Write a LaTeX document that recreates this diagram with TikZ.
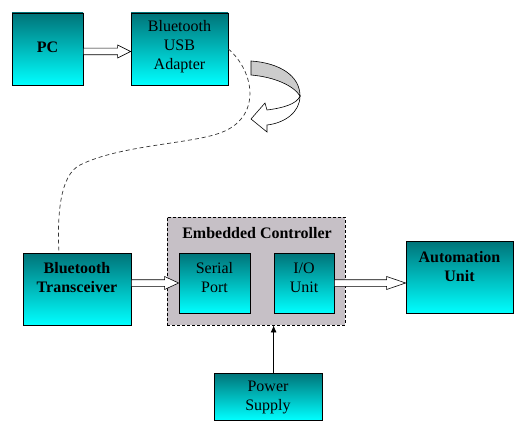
\documentclass[tikz,border=0pt]{standalone}
\usepackage{fontspec}
\setmainfont{Liberation Serif}
\usetikzlibrary{calc,arrows.meta}
\definecolor{boxtop}{RGB}{0,115,120}
\definecolor{boxmid}{RGB}{0,190,195}
\definecolor{boxbot}{RGB}{0,255,255}
\definecolor{ecgray}{RGB}{198,192,198}
\tikzset{
  blk/.style={draw, line width=.8pt, top color=boxtop, middle color=boxmid, bottom color=boxbot},
  lbl/.style={align=center, inner sep=0pt, font=\fontsize{16}{19}\selectfont},
  lblb/.style={lbl, font=\fontsize{16}{19}\selectfont\bfseries},
}
% hollow block arrow, [head length]{from}{to}
\newcommand{\fatarrow}[3][14pt]{%
  \draw[fill=white, line width=.6pt] let \p1=(#2), \p2=(#3) in
    (\x1,\y1+3.3pt) -- (\x2-#1,\y1+3.3pt) -- (\x2-#1,\y1+6.5pt) -- (\x2,\y1)
    -- (\x2-#1,\y1-6.5pt) -- (\x2-#1,\y1-3.3pt) -- (\x1,\y1-3.3pt) -- cycle;}
\begin{document}
\begin{tikzpicture}[x=1pt, y=-1pt, >={Latex[length=7pt,width=6pt]}]
\useasboundingbox (0,0) rectangle (525,433);
% top row
\node[blk, minimum width=71pt, minimum height=72pt] (pc) at (47.5,49) {};
\node[lblb] (pctxt) at ([yshift=2pt]pc.center) {PC};
\node[blk, minimum width=97pt, minimum height=72pt] (usb) at (179.5,49) {};
\node[lbl] (usbtxt) at ([yshift=2pt]usb.center) {Bluetooth\\USB\\Adapter};
\fatarrow[13pt]{[yshift=-2.5pt]pc.east}{usb.west}
% wireless link
\draw[fill=gray!40, line width=.6pt] (251,61) .. controls (280,63) and (300,76) .. (300,96)
   .. controls (294,86) and (275,77) .. (251,75) -- cycle;
\draw[fill=white, line width=.6pt] (300,96) .. controls (300,112) and (285,123) .. (267,125)
   -- (267,132) -- (251,119) -- (265,103) -- (267,110)
   .. controls (283,108) and (297,104) .. (300,96) -- cycle;
% bottom row
\node[blk, minimum width=108pt, minimum height=72pt] (bt) at (77,289) {};
\node[lblb] (bttxt) at ([yshift=11pt]bt.center) {Bluetooth\\Transceiver};
\draw[dash pattern=on 4pt off 3pt, line width=.7pt, black!80] (usb.east)
   .. controls (255,72) and (262,118) .. (220,133)
   .. controls (190,144) and (120,145) .. (80,165)
   .. controls (60,175) and (57,215) .. ([xshift=-18pt]bt.north);
\node[draw, dash pattern=on 3pt off 2pt, line width=.8pt, fill=ecgray,
      minimum width=178pt, minimum height=108pt] (ec) at (256,271) {};
\node[lblb] (ectxt) at (257,233) {Embedded Controller};
\node[blk, minimum width=71pt, minimum height=60pt] (sp) at (214.5,283) {};
\node[lbl] (sptxt) at ([yshift=5pt]sp.center) {Serial\\Port};
\node[blk, minimum width=60pt, minimum height=60pt] (io) at (304,283) {};
\node[lbl] (iotxt) at ([yshift=5pt]io.center) {I/O\\Unit};
\node[blk, minimum width=107pt, minimum height=72pt] (auto) at (459.5,277) {};
\node[lblb] (autotxt) at ([yshift=10.5pt]auto.center) {Automation\\Unit};
\node[blk, minimum width=108pt, minimum height=47pt] (ps) at (268,396.5) {};
\node[lbl] (pstxt) at ([yshift=-1pt]ps.center) {Power\\Supply};
\fatarrow{bt.east |- sp.center}{sp.west}
\fatarrow[19pt]{io.east}{auto.west}
\draw[->, line width=.8pt] (ps.north -| io.west) -- (ec.south -| io.west);
\end{tikzpicture}
\end{document}
